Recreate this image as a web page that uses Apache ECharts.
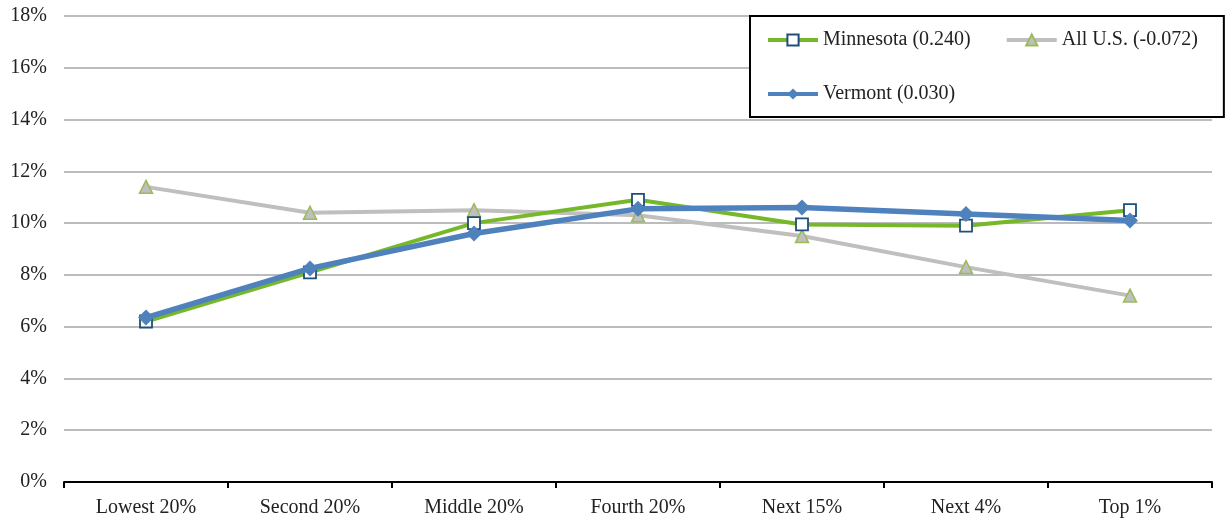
<!DOCTYPE html>
<html>
<head>
<meta charset="utf-8">
<script src="https://cdn.jsdelivr.net/npm/echarts@6/dist/echarts.min.js"></script>
<style>
  html, body { margin: 0; padding: 0; background: #fff; }
  #chart { width: 1225px; height: 521px; }
</style>
</head>
<body>
<div id="chart"></div>
<script>
// categories and values (percent)
var categories = ['Lowest 20%', 'Second 20%', 'Middle 20%', 'Fourth 20%', 'Next 15%', 'Next 4%', 'Top 1%'];
var minnesota = [6.2, 8.1, 10.0, 10.9, 9.95, 9.9, 10.5];
var allUS = [11.4, 10.4, 10.5, 10.3, 9.5, 8.3, 7.2];
var vermont = [6.35, 8.25, 9.6, 10.55, 10.6, 10.35, 10.1];

var seriesNames = ['Minnesota (0.240)', 'All U.S. (-0.072)', 'Vermont (0.030)'];

var font = 'Liberation Serif, Times New Roman, serif';

var chart = echarts.init(document.getElementById('chart'));

var option = {
    animation: false,
    textStyle: { fontFamily: font },
    grid: { left: 64, right: 13, top: 16, bottom: 39 },
    legend: {
        data: seriesNames,
        left: 750,
        top: 16,
        width: 440,
        padding: [14, 26, 13, 16],
        itemGap: 34,
        itemWidth: 50,
        itemHeight: 14,
        backgroundColor: '#fff',
        borderColor: '#000',
        borderWidth: 2,
        lineStyle: { width: 4 },
        textStyle: { fontFamily: font, fontSize: 20, color: '#222' }
    },
    xAxis: {
        type: 'category',
        data: categories,
        boundaryGap: true,
        axisLine: { lineStyle: { color: '#000', width: 2 } },
        axisTick: { show: true, length: 6, lineStyle: { color: '#000', width: 2 } },
        axisLabel: { color: '#222', fontSize: 20, fontFamily: font, margin: 16 },
        splitLine: { show: false }
    },
    yAxis: {
        type: 'value',
        min: 0,
        max: 18,
        interval: 2,
        axisLine: { show: false },
        axisTick: { show: false },
        axisLabel: { formatter: '{value}%', color: '#222', fontSize: 20, fontFamily: font, margin: 17 },
        splitLine: { lineStyle: { color: '#a6a6a6', width: 1.5 } }
    },
    series: [
        {
            name: seriesNames[1],
            type: 'line',
            data: allUS,
            z: 2,
            symbol: 'triangle',
            symbolSize: 13,
            lineStyle: { color: '#bfbfbf', width: 4 },
            itemStyle: { color: '#bfbfbf', borderColor: '#9bbb59', borderWidth: 1.5 }
        },
        {
            name: seriesNames[0],
            type: 'line',
            data: minnesota,
            z: 3,
            symbol: 'rect',
            symbolSize: 12,
            lineStyle: { color: '#76b82a', width: 4 },
            itemStyle: { color: '#fff', borderColor: '#1f4e79', borderWidth: 1.8 }
        },
        {
            name: seriesNames[2],
            type: 'line',
            data: vermont,
            z: 4,
            symbol: 'diamond',
            symbolSize: 16,
            lineStyle: { color: '#4f81bd', width: 5.5 },
            itemStyle: { color: '#4f81bd' }
        }
    ]
};

chart.setOption(option);
</script>
</body>
</html>
